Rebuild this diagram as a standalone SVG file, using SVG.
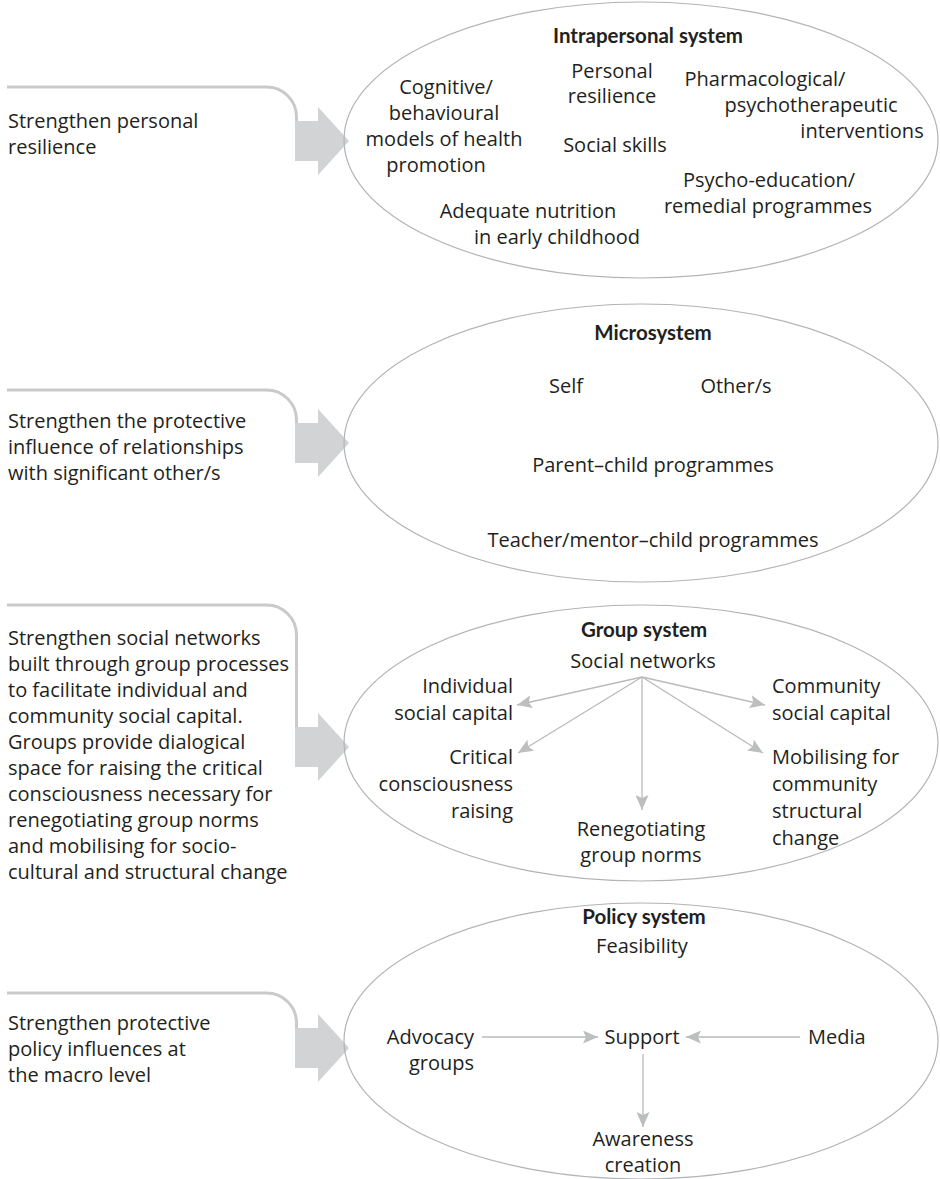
<svg xmlns="http://www.w3.org/2000/svg" width="940" height="1179" viewBox="0 0 940 1179">
  <defs>
    <marker id="ah" markerUnits="userSpaceOnUse" markerWidth="16" markerHeight="13" refX="15" refY="6.5" orient="auto" viewBox="0 0 16 13">
      <path d="M0,0 L15,6.5 L0,13 L3,6.5 z" fill="#bcbec0"/>
    </marker>
    <style>
      .t{font-family:"Open Sans","Liberation Sans",sans-serif;font-size:20px;fill:#231f20}
      .b{font-family:Lato,"Open Sans",sans-serif;font-weight:700;font-size:20.5px}
      .m{text-anchor:middle}
      .e{text-anchor:end}
      .sys{fill:none;stroke:#b1b3b5;stroke-width:1.2}
      .brk{fill:none;stroke:#c9cacc;stroke-width:3}
      .blk{fill:#d1d3d4}
      .cn{stroke:#b8babc;stroke-width:1.3;fill:none;marker-end:url(#ah)}
    </style>
  </defs>
  <rect width="940" height="1179" fill="#ffffff"/>

  <!-- Left-hand strategy brackets and block arrows -->
  <g id="strategy-personal">
    <path class="brk" d="M7,87 H266.5 A30,30 0 0 1 296.5,117 V121"/>
    <path class="blk" d="M295,121 H318 V107 L349,141 L318,175 V161 H295 Z"/>
    <text class="t" x="8" y="128">Strengthen personal</text>
    <text class="t" x="8" y="154">resilience</text>
  </g>
  <g id="strategy-relationships">
    <path class="brk" d="M7,390 H266.5 A30,30 0 0 1 296.5,420 V423"/>
    <path class="blk" d="M295,423 H318 V409 L349,443 L318,477 V463 H295 Z"/>
    <text class="t" x="8" y="428">Strengthen the protective</text>
    <text class="t" x="8" y="454">influence of relationships</text>
    <text class="t" x="8" y="480">with significant other/s</text>
  </g>
  <g id="strategy-groups">
    <path class="brk" d="M7,605 H266.5 A30,30 0 0 1 296.5,635 V727"/>
    <path class="blk" d="M295,727 H318 V713 L349,747 L318,781 V767 H295 Z"/>
    <text class="t" x="8" y="645">Strengthen social networks</text>
    <text class="t" x="8" y="671">built through group processes</text>
    <text class="t" x="8" y="697">to facilitate individual and</text>
    <text class="t" x="8" y="723">community social capital.</text>
    <text class="t" x="8" y="749">Groups provide dialogical</text>
    <text class="t" x="8" y="775">space for raising the critical</text>
    <text class="t" x="8" y="801">consciousness necessary for</text>
    <text class="t" x="8" y="827">renegotiating group norms</text>
    <text class="t" x="8" y="853">and mobilising for socio-</text>
    <text class="t" x="8" y="879">cultural and structural change</text>
  </g>
  <g id="strategy-policy">
    <path class="brk" d="M7,993 H266.5 A30,30 0 0 1 296.5,1023 V1028"/>
    <path class="blk" d="M295,1028 H318 V1014 L349,1048 L318,1082 V1068 H295 Z"/>
    <text class="t" x="8" y="1030">Strengthen protective</text>
    <text class="t" x="8" y="1056">policy influences at</text>
    <text class="t" x="8" y="1082">the macro level</text>
  </g>

  <!-- Intrapersonal system -->
  <g id="intrapersonal-system">
    <ellipse class="sys" cx="641" cy="140" rx="297" ry="138"/>
    <text class="t b m" x="648" y="43">Intrapersonal system</text>
    <text class="t m" x="612" y="78">Personal</text>
    <text class="t m" x="612" y="103">resilience</text>
    <text class="t m" x="446" y="94">Cognitive/</text>
    <text class="t m" x="444" y="120">behavioural</text>
    <text class="t m" x="444" y="146">models of health</text>
    <text class="t m" x="436" y="172">promotion</text>
    <text class="t m" x="615" y="152">Social skills</text>
    <text class="t m" x="765" y="86">Pharmacological/</text>
    <text class="t m" x="811" y="112">psychotherapeutic</text>
    <text class="t m" x="862" y="138">interventions</text>
    <text class="t m" x="769" y="187">Psycho-education/</text>
    <text class="t m" x="768" y="213">remedial programmes</text>
    <text class="t m" x="528" y="218">Adequate nutrition</text>
    <text class="t m" x="557" y="244">in early childhood</text>
  </g>

  <!-- Microsystem -->
  <g id="microsystem">
    <ellipse class="sys" cx="641" cy="443" rx="297" ry="139"/>
    <text class="t b m" x="653" y="340">Microsystem</text>
    <text class="t m" x="566" y="393">Self</text>
    <text class="t m" x="736" y="393">Other/s</text>
    <text class="t m" x="653" y="472">Parent–child programmes</text>
    <text class="t m" x="653" y="547">Teacher/mentor–child programmes</text>
  </g>

  <!-- Group system -->
  <g id="group-system">
    <ellipse class="sys" cx="641" cy="743" rx="297" ry="138"/>
    <text class="t b m" x="644" y="637">Group system</text>
    <text class="t m" x="643" y="668">Social networks</text>
    <text class="t e" x="513" y="693">Individual</text>
    <text class="t e" x="513" y="720">social capital</text>
    <text class="t e" x="513" y="764">Critical</text>
    <text class="t e" x="513" y="791">consciousness</text>
    <text class="t e" x="513" y="818">raising</text>
    <text class="t" x="772" y="693">Community</text>
    <text class="t" x="772" y="720">social capital</text>
    <text class="t" x="772" y="764">Mobilising for</text>
    <text class="t" x="772" y="791">community</text>
    <text class="t" x="772" y="818">structural</text>
    <text class="t" x="772" y="845">change</text>
    <text class="t m" x="641" y="836">Renegotiating</text>
    <text class="t m" x="641" y="862">group norms</text>
  </g>

  <!-- Policy system -->
  <g id="policy-system">
    <ellipse class="sys" cx="641" cy="1041" rx="297" ry="138"/>
    <text class="t b m" x="644" y="924">Policy system</text>
    <text class="t m" x="642" y="953">Feasibility</text>
    <text class="t e" x="474" y="1044">Advocacy</text>
    <text class="t e" x="474" y="1070">groups</text>
    <text class="t m" x="642" y="1044">Support</text>
    <text class="t" x="808" y="1044">Media</text>
    <text class="t m" x="643" y="1146">Awareness</text>
    <text class="t m" x="643" y="1172">creation</text>
  </g>

  <!-- Connectors inside the group and policy systems -->
  <g id="connectors">
    <line class="cn" x1="642" y1="677" x2="517" y2="705"/>
    <line class="cn" x1="642" y1="677" x2="518" y2="753"/>
    <line class="cn" x1="642" y1="677" x2="642" y2="810"/>
    <line class="cn" x1="642" y1="677" x2="765" y2="705"/>
    <line class="cn" x1="642" y1="677" x2="763" y2="753"/>
    <line class="cn" x1="482" y1="1037" x2="598" y2="1037"/>
    <line class="cn" x1="800" y1="1037" x2="686" y2="1037"/>
    <line class="cn" x1="643" y1="1054" x2="643" y2="1127"/>
  </g>
</svg>
